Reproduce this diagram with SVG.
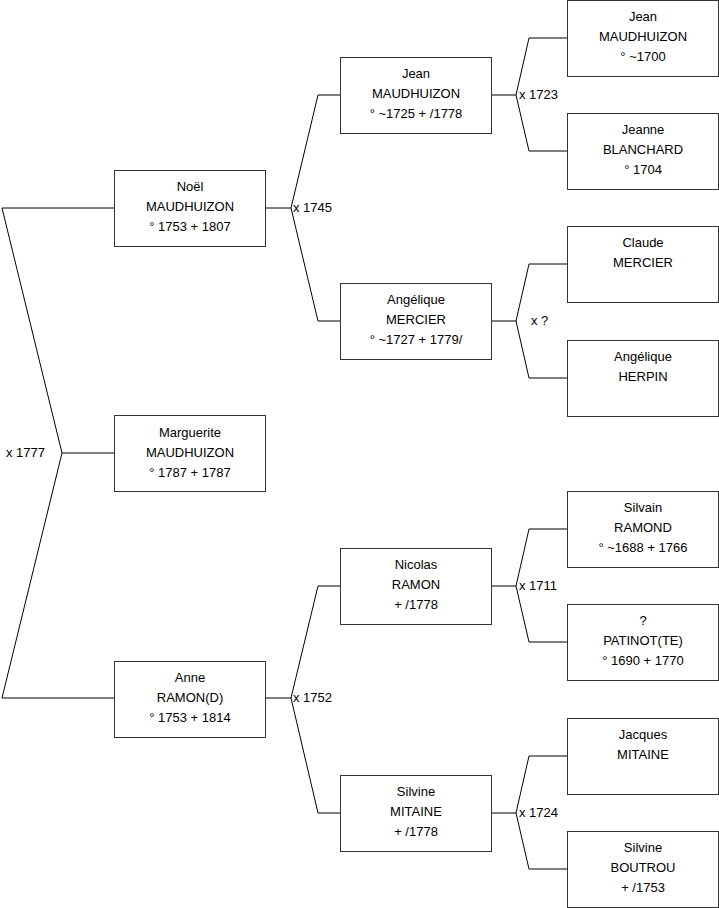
<svg xmlns="http://www.w3.org/2000/svg" width="719" height="908" viewBox="0 0 719 908">
<style>
.b{fill:#fff;stroke:#333;stroke-width:1}
.c{fill:none;stroke:#000;stroke-width:1}
text{font-family:"Liberation Sans",Arial,sans-serif;font-size:13px;fill:#000}
.m{text-anchor:middle}
</style>
<rect width="719" height="908" fill="#fff"/>
<g id="connectors">
<polyline class="c" points="114,208 2,208 62,453 2,698 114,698"/>
<line class="c" x1="62" y1="453" x2="114" y2="453"/>
<polyline class="c" points="265,208 291,208"/>
<polyline class="c" points="341,95 318,95 291,208 318,321 341,321"/>
<polyline class="c" points="265,698 291,698"/>
<polyline class="c" points="341,586 318,586 291,698 318,813 341,813"/>
<polyline class="c" points="491,95 516,95"/>
<polyline class="c" points="567,38 529,38 516,95 529,151 567,151"/>
<polyline class="c" points="491,321 516,321"/>
<polyline class="c" points="567,264 529,264 516,321 529,378 567,378"/>
<polyline class="c" points="491,586 516,586"/>
<polyline class="c" points="567,529 529,529 516,586 529,642 567,642"/>
<polyline class="c" points="491,813 516,813"/>
<polyline class="c" points="567,756 529,756 516,813 529,869 567,869"/>
<text x="6" y="457">x 1777</text>
<text x="293" y="212">x 1745</text>
<text x="293" y="702">x 1752</text>
<text x="519" y="99">x 1723</text>
<text x="531" y="325">x ?</text>
<text x="519" y="590">x 1711</text>
<text x="519" y="817">x 1724</text>
</g>
<g id="noel"><rect class="b" x="114.5" y="170.5" width="151" height="76"/><text class="m" x="190" y="191">Noël</text><text class="m" x="190" y="211">MAUDHUIZON</text><text class="m" x="190" y="231">° 1753 + 1807</text></g>
<g id="marguerite"><rect class="b" x="114.5" y="415.5" width="151" height="76"/><text class="m" x="190" y="437">Marguerite</text><text class="m" x="190" y="457">MAUDHUIZON</text><text class="m" x="190" y="477">° 1787 + 1787</text></g>
<g id="anne"><rect class="b" x="114.5" y="661.5" width="151" height="76"/><text class="m" x="190" y="682">Anne</text><text class="m" x="190" y="702">RAMON(D)</text><text class="m" x="190" y="722">° 1753 + 1814</text></g>
<g id="jean1"><rect class="b" x="340.5" y="57.5" width="151" height="76"/><text class="m" x="416" y="78">Jean</text><text class="m" x="416" y="98">MAUDHUIZON</text><text class="m" x="416" y="118">° ~1725 + /1778</text></g>
<g id="angelique1"><rect class="b" x="340.5" y="283.5" width="151" height="76"/><text class="m" x="416" y="304">Angélique</text><text class="m" x="416" y="324">MERCIER</text><text class="m" x="416" y="344">° ~1727 + 1779/</text></g>
<g id="nicolas"><rect class="b" x="340.5" y="548.5" width="151" height="76"/><text class="m" x="416" y="569">Nicolas</text><text class="m" x="416" y="589">RAMON</text><text class="m" x="416" y="609">+ /1778</text></g>
<g id="silvine1"><rect class="b" x="340.5" y="775.5" width="151" height="76"/><text class="m" x="416" y="796">Silvine</text><text class="m" x="416" y="816">MITAINE</text><text class="m" x="416" y="836">+ /1778</text></g>
<g id="jean2"><rect class="b" x="567.5" y="0.5" width="151" height="76"/><text class="m" x="643" y="21">Jean</text><text class="m" x="643" y="41">MAUDHUIZON</text><text class="m" x="643" y="61">° ~1700</text></g>
<g id="jeanne"><rect class="b" x="567.5" y="113.5" width="151" height="76"/><text class="m" x="643" y="134">Jeanne</text><text class="m" x="643" y="154">BLANCHARD</text><text class="m" x="643" y="174">° 1704</text></g>
<g id="claude"><rect class="b" x="567.5" y="226.5" width="151" height="76"/><text class="m" x="643" y="247">Claude</text><text class="m" x="643" y="267">MERCIER</text></g>
<g id="angelique2"><rect class="b" x="567.5" y="340.5" width="151" height="76"/><text class="m" x="643" y="361">Angélique</text><text class="m" x="643" y="381">HERPIN</text></g>
<g id="silvain"><rect class="b" x="567.5" y="491.5" width="151" height="76"/><text class="m" x="643" y="512">Silvain</text><text class="m" x="643" y="532">RAMOND</text><text class="m" x="643" y="552">° ~1688 + 1766</text></g>
<g id="patinot"><rect class="b" x="567.5" y="604.5" width="151" height="76"/><text class="m" x="643" y="625">?</text><text class="m" x="643" y="645">PATINOT(TE)</text><text class="m" x="643" y="665">° 1690 + 1770</text></g>
<g id="jacques"><rect class="b" x="567.5" y="718.5" width="151" height="76"/><text class="m" x="643" y="739">Jacques</text><text class="m" x="643" y="759">MITAINE</text></g>
<g id="silvine2"><rect class="b" x="567.5" y="831.5" width="151" height="76"/><text class="m" x="643" y="852">Silvine</text><text class="m" x="643" y="872">BOUTROU</text><text class="m" x="643" y="892">+ /1753</text></g>
</svg>
